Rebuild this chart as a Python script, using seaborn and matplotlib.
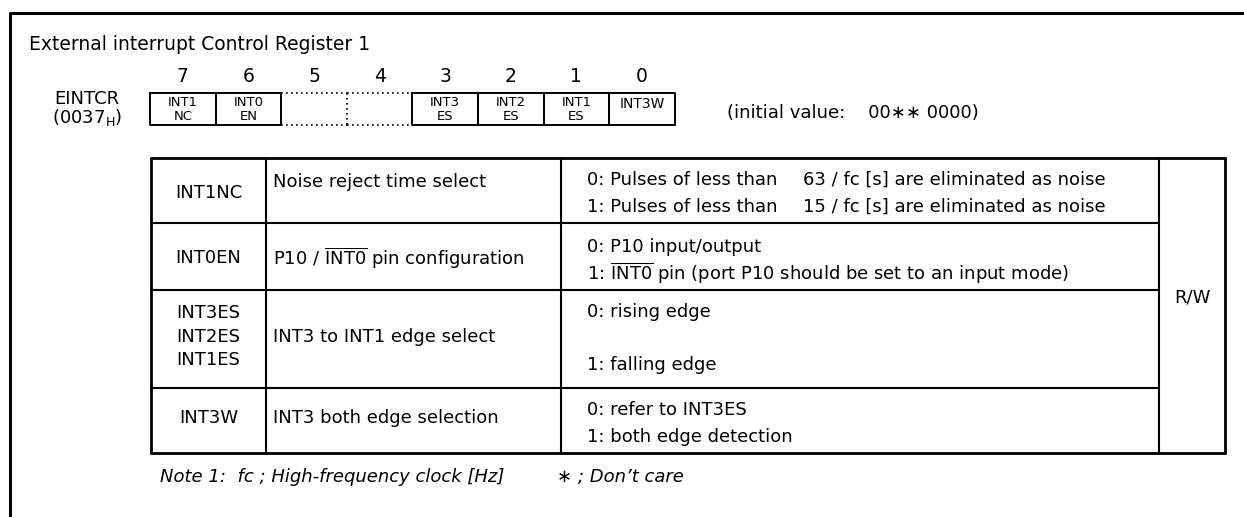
import matplotlib
matplotlib.use("Agg")
import matplotlib.pyplot as plt
import seaborn as sns

# register / table contents
title = "External interrupt Control Register 1"
reg_name = "EINTCR"
reg_addr = r"(0037$_{\mathrm{H}}$)"
bit_nums = [7, 6, 5, 4, 3, 2, 1, 0]
bit_labels = ["INT1\nNC", "INT0\nEN", "", "", "INT3\nES", "INT2\nES", "INT1\nES", "INT3W"]
init_value = "(initial value:    00\u2217\u2217 0000)"

row_names = [["INT1NC"], ["INT0EN"], ["INT3ES", "INT2ES", "INT1ES"], ["INT3W"]]
row_funcs = ["Noise reject time select",
             r"P10 / $\overline{\mathrm{INT0}}$ pin configuration",
             "INT3 to INT1 edge select",
             "INT3 both edge selection"]
row_vals = [["0: Pulses of less than", "1: Pulses of less than"],
            ["0: P10 input/output", r"1: $\overline{\mathrm{INT0}}$ pin (port P10 should be set to an input mode)"],
            ["0: rising edge", "1: falling edge"],
            ["0: refer to INT3ES", "1: both edge detection"]]
noise_vals = ["63 / fc [s] are eliminated as noise", "15 / fc [s] are eliminated as noise"]
access = "R/W"
note_left = "Note 1:  fc ; High-frequency clock [Hz]"
note_right = "\u2217 ; Don\u2019t care"

sns.set_theme(style="white")
plt.rcParams['font.family'] = ['DejaVu Sans']
plt.rcParams['mathtext.fontset'] = 'dejavusans'
plt.rcParams['text.color'] = 'black'

fig = plt.figure(figsize=(12.44, 5.17), dpi=100)
ax = fig.add_axes([0, 0, 1, 1])
ax.set_xlim(0, 1244)
ax.set_ylim(517, 0)
ax.axis('off')

fs = 13
# outer frame (top + left)
ax.plot([10, 10, 1244], [517, 13, 13], color='black', lw=2.2, solid_capstyle='butt')
ax.text(29, 44, title, fontsize=13.5, va='center', ha='left')

# register layout
bx0, bw, by0, by1 = 150, 65.6, 93, 125
ax.text(87, 99, reg_name, fontsize=fs, ha='center', va='center')
ax.text(87, 118, reg_addr, fontsize=fs, ha='center', va='center')
for i, (n, lab) in enumerate(zip(bit_nums, bit_labels)):
    xl = bx0 + i * bw
    ax.text(xl + bw / 2, 76, str(n), fontsize=13.5, ha='center', va='center')
    if lab == "":
        ax.plot([xl, xl + bw], [by0, by0], color='black', lw=1.2, ls=(0, (1, 2)))
        ax.plot([xl, xl + bw], [by1, by1], color='black', lw=1.2, ls=(0, (1, 2)))
        continue
    ax.plot([xl, xl + bw, xl + bw, xl, xl], [by0, by0, by1, by1, by0], color='black', lw=1.4)
    parts = lab.split("\n")
    if len(parts) == 2:
        ax.text(xl + bw / 2, 102, parts[0], fontsize=9.5, ha='center', va='center')
        ax.text(xl + bw / 2, 117, parts[1], fontsize=9.5, ha='center', va='center')
    else:
        ax.text(xl + bw / 2, 104, parts[0], fontsize=10, ha='center', va='center')
# dotted divider between bits 5 and 4
ax.plot([bx0 + 3 * bw] * 2, [by0, by1], color='black', lw=1.2, ls=(0, (1, 2)))
ax.text(727, 113, init_value, fontsize=fs, ha='left', va='center')

# table
cols = [151, 266, 561, 1159, 1225]
rows = [158, 223, 290, 388, 453]
for y in rows[1:-1]:
    ax.plot([cols[0], cols[3]], [y, y], color='black', lw=1.5)
for y in [rows[0], rows[-1]]:
    ax.plot([cols[0], cols[-1]], [y, y], color='black', lw=2.0)
for x in cols:
    ax.plot([x, x], [rows[0], rows[-1]], color='black', lw=2.0 if x in (cols[0], cols[-1]) else 1.5)

name_y = [[193], [258], [313, 337, 360], [418]]
func_y = [182, 258, 337, 418]
val_y = [[180, 207], [247, 273], [312, 365], [410, 437]]
for r in range(4):
    for txt, y in zip(row_names[r], name_y[r]):
        ax.text((cols[0] + cols[1]) / 2, y, txt, fontsize=fs, ha='center', va='center')
    ax.text(273, func_y[r], row_funcs[r], fontsize=fs, ha='left', va='center')
    for txt, y in zip(row_vals[r], val_y[r]):
        ax.text(587, y, txt, fontsize=fs, ha='left', va='center')
for txt, y in zip(noise_vals, val_y[0]):
    ax.text(803, y, txt, fontsize=fs, ha='left', va='center')
ax.text((cols[3] + cols[4]) / 2, 297, access, fontsize=fs, ha='center', va='center')

ax.text(160, 477, note_left, fontsize=fs, style='italic', ha='left', va='center')
ax.text(557, 477, note_right, fontsize=fs, style='italic', ha='left', va='center')

fig.savefig("out.png", dpi=100)
